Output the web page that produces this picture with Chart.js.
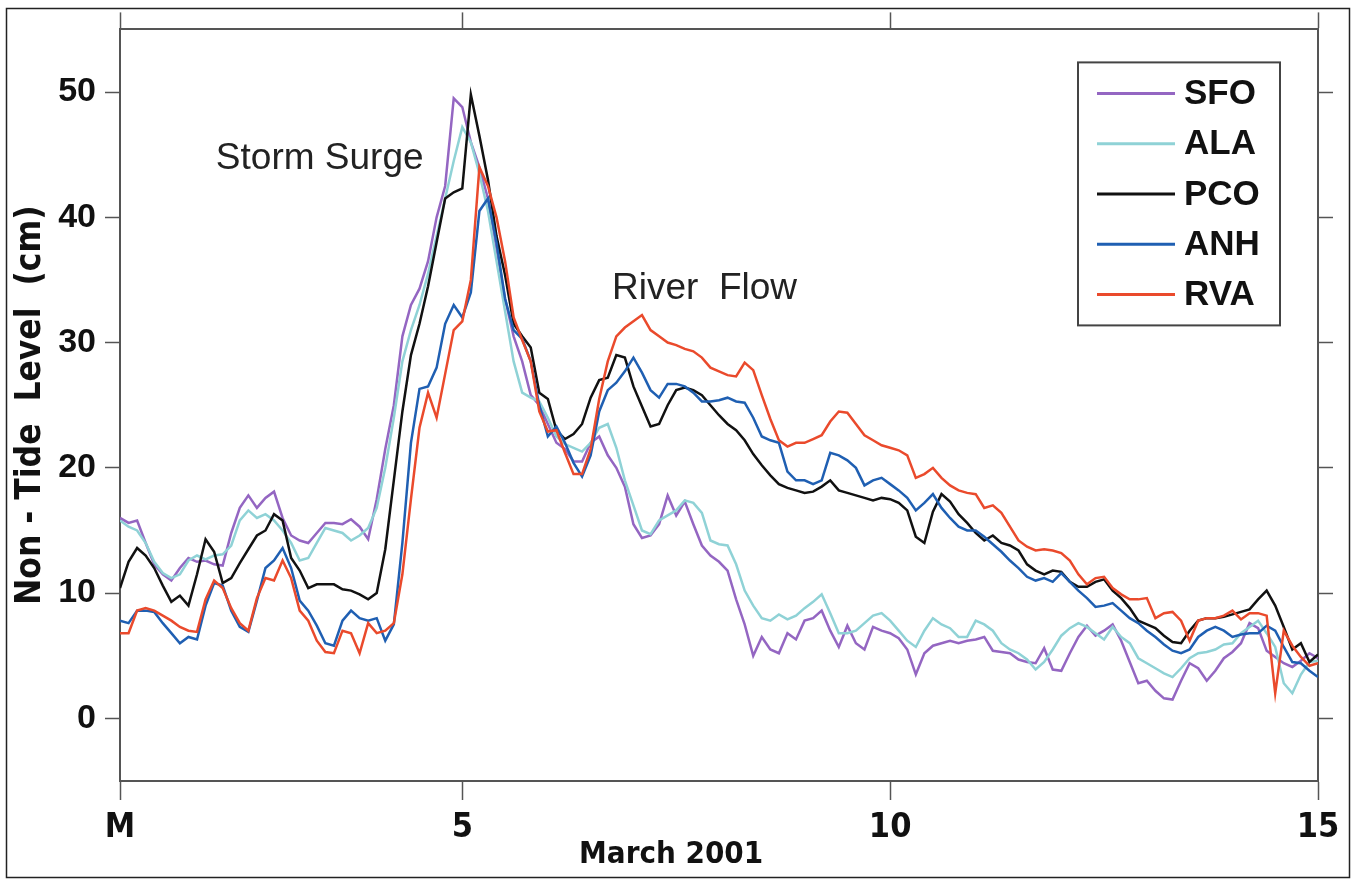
<!DOCTYPE html>
<html>
<head>
<meta charset="utf-8">
<script src="https://cdn.jsdelivr.net/npm/chart.js@4.4.1/dist/chart.umd.min.js"></script>
<style>
  html, body { margin: 0; padding: 0; background: #fff; }
  #wrap { width: 1357px; height: 881px; position: relative; }
</style>
</head>
<body>
<div id="wrap"><canvas id="myChart" width="1357" height="881"></canvas></div>
<script>
// time stamps: every 0.1 day from 1 March (M) to 15 March
const days = [];
for (let i = 0; i <= 140; ++i) {
  days.push(+(1 + i / 10).toFixed(1));
}

const xTicks = [1, 5, 10, 15];
const yTicks = [0, 10, 20, 30, 40, 50];

const sfo = [
  16.0, 15.6, 15.8, 14.0, 12.3, 11.5, 11.0, 12.0, 12.8, 12.5,
  12.6, 12.3, 12.2, 14.8, 16.8, 17.8, 16.8, 17.6, 18.1, 16.0,
  14.6, 14.2, 14.0, 14.8, 15.6, 15.6, 15.5, 15.9, 15.3, 14.3,
  17.5, 21.5, 25.0, 30.5, 33.0, 34.3, 36.5, 40.0, 42.5, 49.5,
  48.8, 46.0, 44.0, 41.5, 37.5, 33.5, 30.5, 28.5, 25.8, 25.0,
  23.5, 22.0, 21.5, 20.5, 20.5, 22.0, 22.5, 21.0, 20.0, 18.5,
  15.5, 14.4, 14.6, 15.5, 17.8, 16.2, 17.3, 15.5, 13.8, 13.0,
  12.5, 11.8, 9.5, 7.5, 5.0, 6.5, 5.5, 5.2, 6.8, 6.3,
  7.8, 8.0, 8.6, 7.0, 5.7, 7.4, 6.0, 5.5, 7.3, 7.0,
  6.8, 6.4, 5.5, 3.5, 5.2, 5.8, 6.0, 6.2, 6.0, 6.2,
  6.3, 6.5, 5.4, 5.3, 5.2, 4.7, 4.5, 4.4, 5.6, 3.9,
  3.8, 5.2, 6.5, 7.4, 6.6, 7.0, 7.5, 6.2, 4.5, 2.8,
  3.0, 2.2, 1.6, 1.5, 3.0, 4.4, 4.0, 3.0, 3.8, 4.8,
  5.3, 6.0, 7.6, 7.2, 5.4, 4.9, 4.4, 4.1, 4.6, 5.2,
  4.8
];

const ala = [
  15.8, 15.3, 15.0, 14.0, 12.5, 11.6, 11.2, 11.5, 12.6, 13.0,
  12.7, 13.0, 13.1, 13.8, 15.8, 16.6, 16.0, 16.3, 15.8, 15.0,
  14.0, 12.6, 12.8, 14.0, 15.2, 15.0, 14.8, 14.2, 14.6, 15.2,
  16.8, 20.0, 24.0, 28.5, 31.0, 33.0, 35.5, 38.5, 41.5, 44.5,
  47.2, 46.0, 43.5, 40.5, 36.5, 32.5, 28.5, 26.0, 25.6, 25.3,
  24.0, 22.5, 21.9, 21.6, 21.3, 22.0, 23.2, 23.5, 21.6, 19.0,
  17.0, 15.0, 14.7, 15.8, 16.2, 16.6, 17.4, 17.2, 16.4, 14.2,
  13.9, 13.8, 12.3, 10.2, 9.0, 8.0, 7.8, 8.3, 7.9, 8.2,
  8.8, 9.3, 9.9, 8.4, 6.8, 6.8, 7.0, 7.6, 8.2, 8.4,
  7.8, 7.0, 6.2, 5.7, 7.0, 8.0, 7.5, 7.2, 6.5, 6.5,
  7.8, 7.5, 7.0, 6.0, 5.5, 5.2, 4.7, 3.9, 4.5, 5.5,
  6.6, 7.2, 7.6, 7.3, 6.8, 6.3, 7.3, 6.5, 6.0, 4.8,
  4.4, 4.0, 3.6, 3.3, 4.0, 4.8, 5.2, 5.3, 5.5, 5.9,
  6.0, 6.8, 7.3, 7.8, 6.8, 5.7, 2.8, 2.0, 3.5, 4.5,
  4.6
];

const pco = [
  10.4, 12.5, 13.6, 13.0, 12.0, 10.6, 9.3, 9.8, 9.0, 11.5,
  14.3, 13.3, 10.8, 11.2, 12.4, 13.5, 14.6, 15.0, 16.3, 15.8,
  12.8, 11.8, 10.4, 10.7, 10.7, 10.7, 10.3, 10.2, 9.9, 9.5,
  10.0, 13.5, 19.0, 24.5, 29.0, 31.5, 34.5, 38.0, 41.5, 42.0,
  42.3, 49.8, 46.5, 43.0, 38.5, 35.4, 31.5, 30.5, 29.6, 26.0,
  25.5, 23.0, 22.3, 22.7, 23.5, 25.6, 27.0, 27.2, 29.0, 28.8,
  26.5, 24.9, 23.3, 23.5, 25.0, 26.2, 26.4, 26.2, 25.8, 25.0,
  24.2, 23.5, 23.0, 22.2, 21.1, 20.2, 19.4, 18.7, 18.4, 18.2,
  18.0, 18.1, 18.5, 19.0, 18.2, 18.0, 17.8, 17.6, 17.4, 17.6,
  17.5, 17.2, 16.6, 14.5, 14.0, 16.5, 17.9, 17.3, 16.3, 15.6,
  14.8, 14.2, 14.6, 14.0, 13.8, 13.4, 12.3, 11.8, 11.5, 11.8,
  11.7, 10.9, 10.5, 10.5, 10.9, 11.1, 10.2, 9.6, 8.8, 7.8,
  7.5, 7.2, 6.6, 6.1, 6.0, 7.0, 7.8, 8.0, 8.0, 8.1,
  8.3, 8.5, 8.7, 9.5, 10.2, 9.0, 7.3, 5.5, 6.0, 4.5,
  5.1
];

const anh = [
  7.8, 7.6, 8.6, 8.6, 8.5, 7.6, 6.8, 6.0, 6.5, 6.3,
  9.0, 10.8, 10.6, 8.6, 7.3, 6.9, 9.4, 12.0, 12.6, 13.6,
  12.0, 9.4, 8.6, 7.4, 6.0, 5.8, 7.8, 8.6, 8.0, 7.8,
  8.0, 6.2, 7.5, 14.0, 22.0, 26.3, 26.5, 28.0, 31.5, 33.0,
  32.0, 34.0, 40.5, 41.5, 38.0, 33.5, 31.0, 30.3, 28.5, 25.0,
  22.5, 23.3, 22.0, 20.4, 19.3, 21.0, 24.5, 26.2, 26.8, 27.7,
  28.8, 27.6, 26.2, 25.6, 26.7, 26.7, 26.5, 26.0, 25.3, 25.3,
  25.4, 25.6, 25.3, 25.2, 24.0, 22.5, 22.2, 22.0, 19.7, 19.0,
  19.0, 18.7, 19.0, 21.2, 21.0, 20.6, 20.0, 18.6, 19.0, 19.2,
  18.7, 18.2, 17.6, 16.6, 17.2, 17.9, 16.8, 16.0, 15.3, 15.0,
  15.0, 14.5, 13.9, 13.3, 12.6, 12.0, 11.3, 11.0, 11.2, 10.9,
  11.6, 10.9, 10.2, 9.6, 8.9, 9.0, 9.2, 8.6, 8.0, 7.6,
  7.0, 6.5, 5.9, 5.4, 5.2, 5.5, 6.5, 7.0, 7.3, 7.0,
  6.5, 6.7, 6.8, 6.8, 7.4, 7.0, 5.7, 4.5, 4.4, 3.8,
  3.3
];

const rva = [
  6.8, 6.8, 8.6, 8.8, 8.6, 8.2, 7.8, 7.3, 7.0, 6.9,
  9.5, 11.0, 10.4, 8.8, 7.6, 7.0, 9.6, 11.2, 11.0, 12.6,
  11.2, 8.6, 7.8, 6.2, 5.3, 5.2, 7.0, 6.8, 5.2, 7.6,
  6.8, 7.0, 7.6, 11.5, 17.5, 23.2, 26.0, 24.0, 27.5, 31.0,
  31.7, 35.0, 44.0, 42.5, 40.0, 36.5, 32.0, 30.2, 28.5, 24.5,
  22.9, 23.0, 21.2, 19.5, 19.5, 21.5, 25.5, 28.5, 30.5, 31.2,
  31.7, 32.2, 31.0, 30.5, 30.0, 29.8, 29.5, 29.3, 28.8, 28.0,
  27.7, 27.4, 27.3, 28.4, 27.8, 25.8, 23.9, 22.2, 21.7, 22.0,
  22.0, 22.3, 22.6, 23.7, 24.5, 24.4, 23.5, 22.6, 22.2, 21.8,
  21.6, 21.4, 21.0, 19.2, 19.5, 20.0, 19.2, 18.6, 18.2, 18.0,
  17.9, 16.8, 17.0, 16.4, 15.3, 14.2, 13.7, 13.4, 13.5, 13.4,
  13.2, 12.6, 11.5, 10.7, 11.2, 11.3, 10.4, 9.9, 9.5, 9.5,
  9.6, 8.0, 8.4, 8.5, 7.8, 6.2, 7.8, 8.0, 8.0, 8.2,
  8.6, 7.9, 8.4, 8.4, 8.2, 2.0, 7.0, 5.8, 4.9, 4.2,
  4.4
];

const stations = ['SFO', 'ALA', 'PCO', 'ANH', 'RVA'];
const series = [sfo, ala, pco, anh, rva];
const colors = ['#9466c2', '#8fd2d6', '#111111', '#1f5fb2', '#ea4a2c'];

const axisColor = '#555';
const boldFont = "'Liberation Sans', Arial, Helvetica, sans-serif";
const narrowFont = "'Liberation Sans Narrow', 'DejaVu Sans Condensed', 'Liberation Sans', Arial, sans-serif";

const datasets = stations.map((name, i) => ({
  label: name,
  data: series[i].map((v, j) => ({ x: days[j], y: v })),
  borderColor: colors[i],
  backgroundColor: colors[i],
  borderWidth: 2.5,
  pointRadius: 0,
  tension: 0,
  order: 5 - i
}));

const framePlugin = {
  id: 'frame',
  beforeDraw(chart) {
    const ctx = chart.ctx;
    ctx.save();
    ctx.fillStyle = '#fff';
    ctx.fillRect(0, 0, chart.width, chart.height);
    ctx.strokeStyle = '#222';
    ctx.lineWidth = 1.5;
    ctx.strokeRect(6.5, 8.5, 1343, 869);
    ctx.restore();
  },
  afterDraw(chart) {
    const ctx = chart.ctx;
    const xs = chart.scales.x, ys = chart.scales.y;
    const area = chart.chartArea;
    ctx.save();
    // annotations
    ctx.fillStyle = '#222';
    ctx.font = "37px 'Liberation Sans', Arial, sans-serif";
    ctx.textBaseline = 'middle';
    ctx.textAlign = 'left';
    ctx.fillText('Storm Surge', xs.getPixelForValue(2.12), ys.getPixelForValue(44.7));
    ctx.fillText('River  Flow', xs.getPixelForValue(6.75), ys.getPixelForValue(34.3));

    // x axis caption
    ctx.fillStyle = '#111';
    ctx.font = 'bold 31px ' + narrowFont;
    ctx.textAlign = 'center';
    ctx.fillText('March 2001', xs.getPixelForValue(7.44), 855);

    // legend box
    const bx = area.right - 240, by = area.top + 33, bw = 202, bh = 263;
    ctx.strokeStyle = '#444';
    ctx.lineWidth = 2;
    ctx.fillStyle = '#fff';
    ctx.fillRect(bx, by, bw, bh);
    ctx.strokeRect(bx, by, bw, bh);
    ctx.font = 'bold 35px ' + boldFont;
    ctx.textAlign = 'left';
    chart.data.datasets.forEach((ds, i) => {
      const y = by + 31 + i * 50.3;
      ctx.strokeStyle = ds.borderColor;
      ctx.lineWidth = 3;
      ctx.beginPath();
      ctx.moveTo(bx + 19, y);
      ctx.lineTo(bx + 97, y);
      ctx.stroke();
      ctx.fillStyle = '#111';
      ctx.fillText(ds.label, bx + 106, y + 1);
    });
    ctx.restore();
  }
};

const gridOpts = (len) => ({
  drawOnChartArea: false,
  drawTicks: true,
  tickLength: len,
  tickColor: axisColor,
  tickWidth: 1.5
});

const config = {
  type: 'line',
  data: { datasets: datasets },
  options: {
    responsive: false,
    animation: false,
    layout: { padding: { left: 10, right: 24, top: 10, bottom: 0 } },
    plugins: {
      legend: { display: false },
      tooltip: { enabled: false }
    },
    scales: {
      x: {
        type: 'linear',
        position: 'bottom',
        min: 1,
        max: 15,
        afterBuildTicks: (s) => { s.ticks = xTicks.map(v => ({ value: v })); },
        afterFit: (s) => { s.height = 100; },
        border: { color: axisColor, width: 2 },
        grid: gridOpts(19),
        ticks: {
          color: '#111',
          padding: 8,
          maxRotation: 0,
          font: { family: narrowFont, size: 34, weight: 'bold' },
          callback: (v) => (v === 1 ? 'M' : String(v))
        }
      },
      x2: {
        type: 'linear',
        position: 'top',
        min: 1,
        max: 15,
        afterBuildTicks: (s) => { s.ticks = xTicks.map(v => ({ value: v })); },
        afterFit: (s) => { s.height = 17; },
        border: { color: axisColor, width: 2 },
        grid: gridOpts(17),
        ticks: { display: false }
      },
      y: {
        position: 'left',
        min: -5,
        max: 55,
        afterBuildTicks: (s) => { s.ticks = yTicks.map(v => ({ value: v })); },
        afterFit: (s) => { s.width = 110; },
        border: { color: axisColor, width: 2 },
        grid: gridOpts(15),
        ticks: {
          color: '#111',
          padding: 9,
          font: { family: boldFont, size: 34, weight: 'bold' }
        },
        title: {
          display: true,
          text: 'Non - Tide  Level  (cm)',
          color: '#111',
          padding: { top: 0, bottom: 0 },
          font: { family: narrowFont, size: 35, weight: 'bold' }
        }
      },
      y2: {
        position: 'right',
        min: -5,
        max: 55,
        afterBuildTicks: (s) => { s.ticks = yTicks.map(v => ({ value: v })); },
        afterFit: (s) => { s.width = 15; },
        border: { color: axisColor, width: 2 },
        grid: gridOpts(15),
        ticks: { display: false }
      }
    }
  },
  plugins: [framePlugin]
};

const myChart = new Chart(document.getElementById('myChart'), config);
</script>
</body>
</html>
